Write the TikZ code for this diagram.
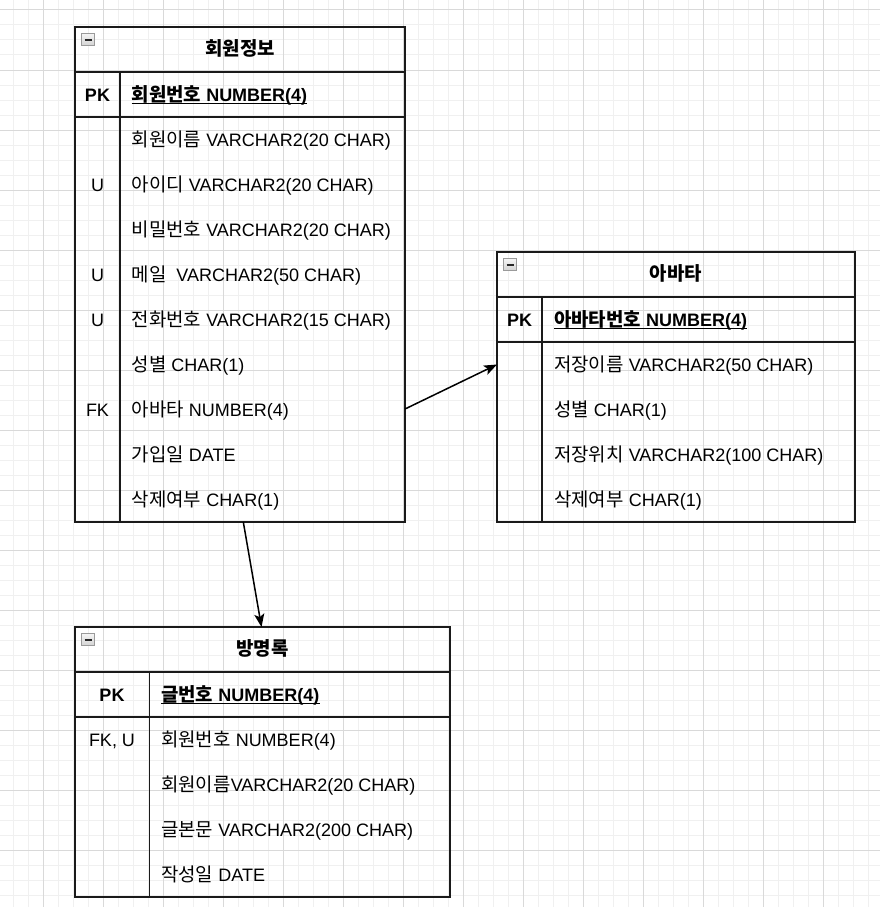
\documentclass[tikz,border=0pt]{standalone}
\usepackage{fontspec}
\setmainfont{Liberation Sans}
\newfontfamily\kr{Noto Sans CJK KR}[Scale=1.05]
\usetikzlibrary{arrows.meta}
\definecolor{gridminor}{HTML}{F0F0F0}
\definecolor{gridmajor}{HTML}{D9D9D9}
\definecolor{ink}{HTML}{1A1A1A}
\definecolor{iconedge}{HTML}{9A9A9A}
\tikzset{
  txt/.style={font=\fontsize{18}{20}\selectfont, inner sep=0pt, anchor=base west, text=black},
  ctxt/.style={txt, anchor=base},
  tline/.style={draw=ink, line width=1.5pt},
  pkline/.style={draw=ink, line width=2pt},
  conn/.style={draw=black, line width=1.5pt, -{Stealth[length=13pt,width=10pt,inset=3pt]}},
}
% icon at top-left corner of a table
\newcommand\ericon[2]{%
  \shade[top color=gray!8, bottom color=gray!35, draw=iconedge, line width=0.8pt]
    (#1+6.5,#2+6.5) rectangle (#1+19.5,#2+18.5);
  \draw[black!85, line width=1.6pt] (#1+9.5,#2+13) -- (#1+16.5,#2+13);
}
% frame: x0 x1 x2 y0 y3 (title row 45, pk row 45)
\newcommand\erframe[5]{%
  \draw[tline] (#1,#4) rectangle (#3,#5);
  \draw[tline] (#1,#4+45) -- (#3,#4+45);
  \draw[pkline] (#1,#4+90) -- (#3,#4+90);
  \draw[tline] (#2,#4+45) -- (#2,#5);
}
\begin{document}
\begin{tikzpicture}[x=1pt,y=-1pt]
\useasboundingbox (0,0) rectangle (880,907);
\fill[white] (0,0) rectangle (880,907);
\begin{scope}
\clip (0,0) rectangle (880,907);
\foreach \i in {0,...,58} \draw[gridminor, line width=1pt] (13.33+15*\i,0) -- (13.33+15*\i,907);
\foreach \i in {0,...,60} \draw[gridminor, line width=1pt] (0,10+15*\i) -- (880,10+15*\i);
\foreach \i in {0,...,14} \draw[gridmajor, line width=1pt] (43.33+60*\i,0) -- (43.33+60*\i,907);
\foreach \i in {0,...,15} \draw[gridmajor, line width=1pt] (0,10+60*\i) -- (880,10+60*\i);
\end{scope}

% ---------------- Table 1: 회원정보 ----------------
\erframe{75}{120}{405}{27}{522}
\ericon{75}{27}
\node[ctxt, font=\fontsize{18}{20}\selectfont\bfseries\kr] (t1title) at (240,55.5) {회원정보};
\node[ctxt, font=\fontsize{18}{20}\selectfont\bfseries] (t1pkk) at (97.5,101) {PK};
\node[txt, font=\fontsize{18}{20}\selectfont\bfseries] (t1pk) at (131.5,101) {{\kr 회원번호} NUMBER(4)};
\draw[black, line width=1.3pt] ([yshift=-2.4pt]t1pk.base west) -- ([yshift=-2.4pt]t1pk.base east);
\node[txt] (t1r1) at (131.5,146) {{\kr 회원이름} VARCHAR2(20 CHAR)};
\node[ctxt] (t1k2) at (97.5,191) {U};
\node[txt] (t1r2) at (131.5,191) {{\kr 아이디} VARCHAR2(20 CHAR)};
\node[txt] (t1r3) at (131.5,236) {{\kr 비밀번호} VARCHAR2(20 CHAR)};
\node[ctxt] (t1k4) at (97.5,281) {U};
\node[txt] (t1r4) at (131.5,281) {{\kr 메일}\ \ VARCHAR2(50 CHAR)};
\node[ctxt] (t1k5) at (97.5,326) {U};
\node[txt] (t1r5) at (131.5,326) {{\kr 전화번호} VARCHAR2(15 CHAR)};
\node[txt] (t1r6) at (131.5,371) {{\kr 성별} CHAR(1)};
\node[ctxt] (t1k7) at (97.5,416) {FK};
\node[txt] (t1r7) at (131.5,416) {{\kr 아바타} NUMBER(4)};
\node[txt] (t1r8) at (131.5,461) {{\kr 가입일} DATE};
\node[txt] (t1r9) at (131.5,506) {{\kr 삭제여부} CHAR(1)};

% ---------------- Table 2: 아바타 ----------------
\erframe{497}{542}{855}{252}{522}
\ericon{497}{252}
\node[ctxt, font=\fontsize{18}{20}\selectfont\bfseries\kr] (t2title) at (676,280.5) {아바타};
\node[ctxt, font=\fontsize{18}{20}\selectfont\bfseries] (t2pkk) at (519.5,326) {PK};
\node[txt, font=\fontsize{18}{20}\selectfont\bfseries] (t2pk) at (554,326) {{\kr 아바타번호} NUMBER(4)};
\draw[black, line width=1.3pt] ([yshift=-2.4pt]t2pk.base west) -- ([yshift=-2.4pt]t2pk.base east);
\node[txt] (t2r1) at (554,371) {{\kr 저장이름} VARCHAR2(50 CHAR)};
\node[txt] (t2r2) at (554,416) {{\kr 성별} CHAR(1)};
\node[txt] (t2r3) at (554,461) {{\kr 저장위치} VARCHAR2(100 CHAR)};
\node[txt] (t2r4) at (554,506) {{\kr 삭제여부} CHAR(1)};

% ---------------- Table 3: 방명록 ----------------
\erframe{75}{149.5}{450}{627}{897}
\ericon{75}{627}
\node[ctxt, font=\fontsize{18}{20}\selectfont\bfseries\kr] (t3title) at (262.5,655.5) {방명록};
\node[ctxt, font=\fontsize{18}{20}\selectfont\bfseries] (t3pkk) at (112,701) {PK};
\node[txt, font=\fontsize{18}{20}\selectfont\bfseries] (t3pk) at (161,701) {{\kr 글번호} NUMBER(4)};
\draw[black, line width=1.3pt] ([yshift=-2.4pt]t3pk.base west) -- ([yshift=-2.4pt]t3pk.base east);
\node[ctxt] (t3k1) at (112,746) {FK, U};
\node[txt] (t3r1) at (161,746) {{\kr 회원번호} NUMBER(4)};
\node[txt] (t3r2) at (161,791) {{\kr 회원이름}VARCHAR2(20 CHAR)};
\node[txt] (t3r3) at (161,836) {{\kr 글본문} VARCHAR2(200 CHAR)};
\node[txt] (t3r4) at (161,881) {{\kr 작성일} DATE};

% ---------------- connectors ----------------
\coordinate (c1s) at (405,409);
\coordinate (c1e) at (497,364.5);
\coordinate (c2s) at (243.3,522);
\coordinate (c2e) at (261.5,627);
\draw[conn] (c1s) -- (c1e);
\draw[conn] (c2s) -- (c2e);
\end{tikzpicture}
\end{document}
